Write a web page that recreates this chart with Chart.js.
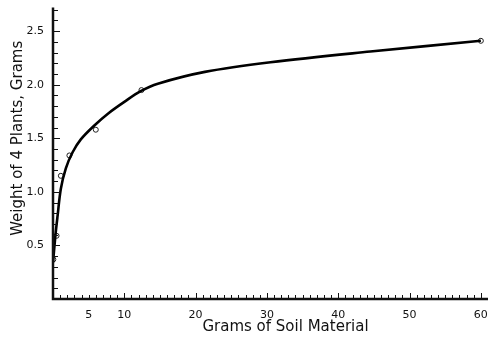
<!DOCTYPE html>
<html>
<head>
<meta charset="utf-8">
<script src="https://cdn.jsdelivr.net/npm/chart.js@4.4.1/dist/chart.umd.min.js"></script>
<style>
  html, body { margin: 0; padding: 0; background: #fff; }
  #wrap { width: 493px; height: 339px; position: relative; }
</style>
</head>
<body>
<div id="wrap"><canvas id="chart"></canvas></div>
<script>
// observed points (grams of soil, weight of 4 plants)
const soilGrams = [0.05, 0.5, 1.1, 2.3, 6.0, 12.4, 60];
const plantWeight = [0.37, 0.59, 1.15, 1.34, 1.58, 1.95, 2.41];

// fitted curve
const curveX = [0, 0.35, 0.65, 1.1, 1.8, 2.75, 3.9, 5.8, 7.7, 10, 12.3, 14.7, 21.3, 30.5, 44.5, 60];
const curveY = [0.34, 0.60, 0.78, 1.03, 1.22, 1.37, 1.49, 1.62, 1.73, 1.84, 1.94, 2.01, 2.12, 2.21, 2.31, 2.41];

const xLabels = [5, 10, 20, 30, 40, 50, 60];
const yLabels = [0.5, 1.0, 1.5, 2.0, 2.5];

const font = "'DejaVu Sans', sans-serif";

// ticks drawn inward from the axes, like the printed figure
const inwardTicks = {
    id: 'inwardTicks',
    afterDraw(chart) {
        const ctx = chart.ctx;
        const area = chart.chartArea;
        const xs = chart.scales.x;
        const ys = chart.scales.y;
        ctx.save();
        ctx.strokeStyle = '#111';
        ctx.lineWidth = 1;
        ctx.beginPath();
        for (let v = 1; v <= 60; v++) {
            const px = Math.round(xs.getPixelForValue(v)) + 0.5;
            const len = v % 10 === 0 ? 6 : 4;
            ctx.moveTo(px, area.bottom);
            ctx.lineTo(px, area.bottom - len);
        }
        for (let i = 1; i <= 27; i++) {
            const py = Math.round(ys.getPixelForValue(i / 10)) + 0.5;
            const len = i % 5 === 0 ? 7 : 5;
            ctx.moveTo(area.left, py);
            ctx.lineTo(area.left + len, py);
        }
        ctx.stroke();
        // axes
        ctx.lineWidth = 2.5;
        ctx.beginPath();
        ctx.moveTo(area.left, area.top);
        ctx.lineTo(area.left, area.bottom);
        ctx.lineTo(area.right, area.bottom);
        ctx.stroke();
        ctx.restore();
    }
};

new Chart(document.getElementById('chart'), {
    type: 'scatter',
    data: {
        datasets: [{
            label: 'curve',
            data: curveX.map((x, i) => ({ x: x, y: curveY[i] })),
            showLine: true,
            borderColor: '#000',
            borderWidth: 2.6,
            tension: 0.35,
            pointRadius: 0
        }, {
            label: 'observed',
            data: soilGrams.map((x, i) => ({ x: x, y: plantWeight[i] })),
            showLine: false,
            pointRadius: 2.5,
            pointBackgroundColor: '#fff',
            pointBorderColor: '#222',
            pointBorderWidth: 1
        }]
    },
    options: {
        responsive: true,
        maintainAspectRatio: false,
        animation: false,
        layout: { padding: { top: 1, right: 3, left: 0, bottom: 0 } },
        plugins: { legend: { display: false }, tooltip: { enabled: false } },
        scales: {
            x: {
                type: 'linear',
                min: 0,
                max: 61,
                border: { display: false },
                grid: { display: false },
                afterFit: (scale) => { scale.height = 40; },
                ticks: {
                    stepSize: 1,
                    autoSkip: false,
                    maxRotation: 0,
                    padding: 2,
                    color: '#111',
                    font: { family: font, size: 11 },
                    callback: (v) => xLabels.includes(v) ? String(v) : ''
                },
                title: {
                    display: true,
                    text: '\u2003\u2003Grams of Soil Material',
                    color: '#111',
                    font: { family: font, size: 15 },
                    padding: { top: 0, bottom: 3 }
                }
            },
            y: {
                min: 0,
                max: 2.72,
                border: { display: false },
                grid: { display: false },
                afterFit: (scale) => { scale.width = 53; },
                ticks: {
                    stepSize: 0.1,
                    autoSkip: false,
                    padding: 1,
                    color: '#111',
                    font: { family: font, size: 11 },
                    callback: (v) => {
                        const r = Math.round(v * 10) / 10;
                        return yLabels.includes(r) && Math.abs(v - r) < 1e-6 ? r.toFixed(1) : '';
                    }
                },
                title: {
                    display: true,
                    text: '\u2003\u2003Weight of 4 Plants, Grams',
                    color: '#111',
                    font: { family: font, size: 15 },
                    padding: { top: 9, bottom: 0 }
                }
            }
        }
    },
    plugins: [inwardTicks]
});
</script>
</body>
</html>
